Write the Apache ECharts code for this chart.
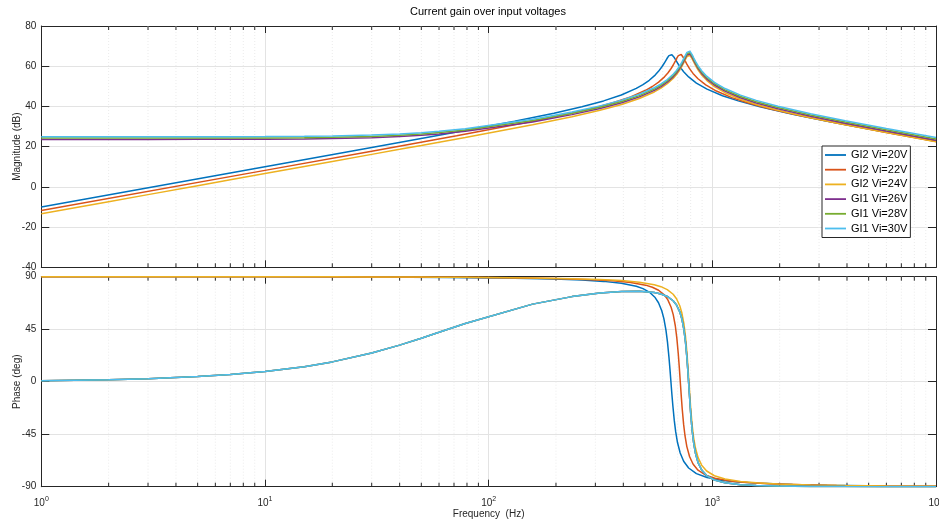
<!DOCTYPE html>
<html><head><meta charset="utf-8">
<script src="https://cdn.jsdelivr.net/npm/echarts@6/dist/echarts.min.js"></script>
<style>html,body{margin:0;padding:0;background:#fff}#c{width:939px;height:522px}</style>
</head><body><div id="c"></div>
<script>
// ---------------- data ----------------
const seriesNames = ['GI2 Vi=20V','GI2 Vi=22V','GI2 Vi=24V','GI1 Vi=26V','GI1 Vi=28V','GI1 Vi=30V'];

// frequency samples (Hz)
const freqA = [1,10,30,65.3,130.6,195.9,261.2,326.5,391.8,457.1,489.8,522.4,555.1,574.6,594.2,607.3,620.4,630.1,639.9,646.5,653,659.5,666.1,675.9,685.7,698.7,718.3,744.4,783.6,848.9,946.9,1110,1306,1633,2286,3265,6000,10000];
const freqB = [1,10,30,71.9,143.8,215.7,287.6,359.5,431.4,503.3,539.3,575.2,611.2,632.7,654.3,668.7,683.1,693.8,704.6,711.8,719,726.2,733.4,744.2,755,769.3,790.9,819.7,862.8,934.7,1042.6,1222.3,1438,1797.5,2516.5,3595,6000,10000];
const freqC = [1,2,3,5,7,10,15,20,30,40,50,60,78.6,157.2,235.8,314.4,393,471.6,550.2,589.5,628.8,668.1,691.7,715.3,731,746.7,758.5,770.3,778.1,786,793.9,801.7,813.5,825.3,841,864.6,896,943.2,1021.8,1139.7,1336.2,1572,1965,2751,3930,6000,10000];

// magnitude (dB)
const magGI2_20 = [-10.00,10.00,19.56,26.39,32.67,36.65,39.84,42.75,45.70,48.96,50.84,53.00,55.59,57.44,59.60,61.22,62.95,64.21,65.26,65.70,65.85,65.70,65.28,64.31,63.16,61.61,59.53,57.26,54.67,51.63,48.60,45.34,42.76,39.84,36.15,32.67,27.14,22.63];
const magGI2_22 = [-11.80,8.20,17.76,25.42,31.71,35.69,38.88,41.80,44.74,48.02,49.91,52.09,54.72,56.62,58.87,60.61,62.52,63.98,65.25,65.80,66.00,65.81,65.27,64.09,62.76,61.04,58.80,56.43,53.78,50.71,47.65,44.38,41.80,38.88,35.19,31.71,27.03,22.51];
const magGI2_24 = [-13.40,-7.38,-3.86,0.58,3.50,6.60,10.13,12.63,16.16,18.66,20.61,22.21,24.60,30.88,34.87,38.06,40.97,43.92,47.20,49.09,51.28,53.93,55.85,58.14,59.92,61.90,63.45,64.81,65.43,65.65,65.43,64.84,63.56,62.15,60.35,58.06,55.66,52.98,49.89,46.83,43.56,40.97,38.06,34.36,30.88,27.00,22.47];
const magGI1_26 = [23.60,23.60,23.61,23.63,23.65,23.70,23.83,24.00,24.45,25.02,25.65,26.33,27.60,32.31,35.93,38.98,41.83,44.74,48.00,49.89,52.07,54.71,56.63,58.91,60.69,62.68,64.22,65.58,66.20,66.42,66.20,65.61,64.33,62.92,61.12,58.83,56.42,53.74,50.65,47.59,44.31,41.72,38.80,35.11,31.62,27.75,23.21];
const magGI1_28 = [24.25,24.25,24.26,24.28,24.30,24.35,24.48,24.65,25.10,25.67,26.30,26.98,28.25,32.96,36.58,39.63,42.48,45.39,48.65,50.54,52.72,55.36,57.28,59.56,61.34,63.33,64.87,66.23,66.85,67.07,66.85,66.26,64.98,63.57,61.77,59.48,57.07,54.39,51.30,48.24,44.96,42.37,39.45,35.76,32.27,28.40,23.86];
const magGI1_30 = [24.90,24.90,24.91,24.93,24.95,25.00,25.13,25.30,25.75,26.32,26.95,27.63,28.90,33.61,37.23,40.28,43.13,46.04,49.30,51.19,53.37,56.01,57.93,60.21,61.99,63.98,65.52,66.88,67.50,67.72,67.50,66.91,65.63,64.22,62.42,60.13,57.72,55.04,51.95,48.89,45.61,43.02,40.10,36.41,32.92,29.05,24.51];

// phase (deg)
const phGI2_20 = [89.99,89.91,89.72,89.39,88.74,88.01,87.13,85.99,84.36,81.78,79.77,76.83,72.13,67.67,60.87,54.07,44.27,34.09,21.00,10.81,0,-10.71,-20.64,-33.17,-42.84,-52.14,-61.12,-68.14,-73.98,-78.78,-82.12,-84.59,-85.99,-87.13,-88.12,-88.74,-89.34,-89.60];
const phGI2_22 = [89.99,89.93,89.78,89.46,88.90,88.25,87.47,86.47,85.04,82.76,80.98,78.37,74.17,70.13,63.87,57.48,47.95,37.57,23.56,12.25,0,-12.13,-23.15,-36.61,-46.52,-55.63,-64.11,-70.58,-75.83,-80.10,-83.06,-85.24,-86.47,-87.48,-88.35,-88.90,-89.36,-89.62];
const phGI2_24 = [89.99,89.99,89.98,89.97,89.96,89.94,89.90,89.87,89.81,89.74,89.68,89.62,89.49,88.95,88.34,87.61,86.65,85.30,83.14,81.45,78.97,74.96,71.10,65.08,58.86,49.48,39.08,24.73,12.91,0,-12.78,-24.30,-38.10,-48.06,-57.06,-65.32,-71.54,-76.55,-80.62,-83.42,-85.49,-86.65,-87.61,-88.44,-88.95,-89.33,-89.60];
const phGI1 = [0.87,1.75,2.62,4.37,6.10,8.68,12.90,16.98,24.58,31.35,37.25,42.33,49.90,66.49,72.93,75.93,77.26,77.45,76.40,75.16,73.07,69.40,65.73,59.89,53.78,44.50,34.18,19.91,8.14,-4.73,-17.46,-28.94,-42.66,-52.56,-61.48,-69.62,-75.68,-80.49,-84.26,-86.68,-88.27,-89.02,-89.50,-89.79,-89.90,-89.95,-89.97];

// axis ticks
const magTicks = {min: -40, max: 80, step: 20};
const phTicks = {min: -90, max: 90, step: 45};
const minorFreqs = [2,3,4,5,6,7,8,9,20,30,40,50,60,70,80,90,200,300,400,500,600,700,800,900,2000,3000,4000,5000,6000,7000,8000,9000];

// ---------------- chart ----------------
const FONT = '"Liberation Sans", Arial, Helvetica, sans-serif';
const INK = '#262626';
const GRIDC = '#e3e3e3';
const colors = ['#0072BD','#D95319','#EDB120','#7E2F8E','#77AC30','#4DBEEE'];
const freqs = [freqA, freqB, freqC, freqC, freqC, freqC];
const mags = [magGI2_20, magGI2_22, magGI2_24, magGI1_26, magGI1_28, magGI1_30];
const phs = [phGI2_20, phGI2_22, phGI2_24, phGI1, phGI1, phGI1];
const pair = (fx, v) => fx.map((f, i) => [f, v[i]]);

const chart = echarts.init(document.getElementById('c'), null, {renderer: 'canvas'});

function xAx(gi, pos, labels, name) {
  const ax = {
    type: 'log', logBase: 10, gridIndex: gi, position: pos, min: 1, max: 10000,
    axisLine: {show: true, onZero: false, lineStyle: {color: INK, width: 1}},
    axisTick: {show: true, inside: true, length: 7, lineStyle: {color: INK}},
    axisLabel: {show: false},
    splitLine: {show: pos === 'bottom', lineStyle: {color: GRIDC, width: 1}},
    minorTick: {show: false}, minorSplitLine: {show: false}
  };
  if (labels) {
    ax.axisLabel = {
      show: true, margin: 9, color: INK, fontFamily: FONT, hideOverlap: false,
      showMinLabel: true, showMaxLabel: true,
      formatter: v => '{b|10}{s|' + Math.round(Math.log10(v)) + '}',
      rich: {
        b: {fontSize: 10, fontFamily: FONT, color: INK, lineHeight: 13, verticalAlign: 'bottom'},
        s: {fontSize: 7, fontFamily: FONT, color: INK, lineHeight: 13, verticalAlign: 'top'}
      }
    };
  }
  if (name) {
    ax.name = name; ax.nameLocation = 'middle'; ax.nameGap = 23; ax.nameMoveOverlap = false;
    ax.nameTextStyle = {fontSize: 10, color: INK, fontFamily: FONT};
  }
  return ax;
}
function yAx(gi, pos, t, name) {
  const left = pos === 'left';
  const ax = {
    type: 'value', gridIndex: gi, position: pos, min: t.min, max: t.max, interval: t.step,
    axisLine: {show: true, onZero: false, lineStyle: {color: INK, width: 1}},
    axisTick: {show: true, inside: true, length: 8, lineStyle: {color: INK}},
    axisLabel: {show: left, margin: 5, fontSize: 10, color: INK, fontFamily: FONT},
    splitLine: {show: left, lineStyle: {color: GRIDC, width: 1}}
  };
  if (name) {
    ax.name = name; ax.nameLocation = 'middle'; ax.nameGap = 19; ax.nameMoveOverlap = false;
    ax.nameTextStyle = {fontSize: 10, color: INK, fontFamily: FONT};
  }
  return ax;
}
function minorSeries(gi, t) {
  return {
    type: 'custom', xAxisIndex: gi * 2, yAxisIndex: gi * 2, silent: true, z: 1, clip: false,
    data: minorFreqs.map(f => [f, t.min]),
    renderItem: (params, api) => {
      const f = api.value(0);
      const pt = api.coord([f, t.max]);
      const pb = api.coord([f, t.min]);
      return {type: 'group', children: [
        {type: 'line', shape: {x1: pt[0], y1: pt[1], x2: pb[0], y2: pb[1]}, style: {stroke: '#ebebeb', lineWidth: 1, lineDash: [1, 2]}},
        {type: 'line', shape: {x1: pt[0], y1: pt[1], x2: pt[0], y2: pt[1] + 4}, style: {stroke: INK, lineWidth: 1}},
        {type: 'line', shape: {x1: pb[0], y1: pb[1], x2: pb[0], y2: pb[1] - 4}, style: {stroke: INK, lineWidth: 1}}
      ]};
    }
  };
}

const series = [minorSeries(0, magTicks), minorSeries(1, phTicks)];
for (let i = 0; i < 6; i++) {
  const common = {type: 'line', name: seriesNames[i], showSymbol: false, symbol: 'none',
    smooth: false, z: 3,
    lineStyle: {width: 1.5, color: colors[i]}, itemStyle: {color: colors[i]}};
  series.push(Object.assign({}, common, {xAxisIndex: 0, yAxisIndex: 0, data: pair(freqs[i], mags[i])}));
  series.push(Object.assign({}, common, {xAxisIndex: 2, yAxisIndex: 2, data: pair(freqs[i], phs[i])}));
}

chart.setOption({
  animation: false,
  backgroundColor: '#fff',
  title: {text: 'Current gain over input voltages', left: 410, top: 6, padding: 0,
    textStyle: {fontSize: 11, fontWeight: 'normal', color: '#000', fontFamily: FONT}},
  legend: {
    data: seriesNames, orient: 'vertical', left: 822, top: 146,
    padding: [2, 3, 2, 3], itemGap: 0.7, itemWidth: 21, itemHeight: 1.8,
    icon: 'rect',
    backgroundColor: '#fff', borderColor: INK, borderWidth: 1, borderRadius: 0,
    selectedMode: false,
    textStyle: {fontSize: 11, lineHeight: 14, color: '#000', fontFamily: FONT}
  },
  grid: [
    {left: 41.3, right: 3, top: 26, height: 241.3, containLabel: false, outerBoundsMode: 'none'},
    {left: 41.3, right: 3, top: 276.7, height: 210, containLabel: false, outerBoundsMode: 'none'}
  ],
  xAxis: [xAx(0, 'bottom', false), xAx(0, 'top', false), xAx(1, 'bottom', true, 'Frequency  (Hz)'), xAx(1, 'top', false)],
  yAxis: [yAx(0, 'left', magTicks, 'Magnitude (dB)'), yAx(0, 'right', magTicks), yAx(1, 'left', phTicks, 'Phase (deg)'), yAx(1, 'right', phTicks)],
  series: series
});
</script>
</body></html>
